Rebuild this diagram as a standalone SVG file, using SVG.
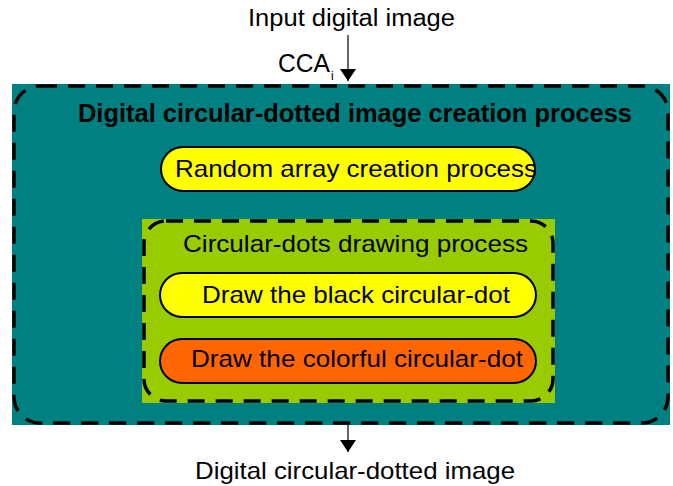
<svg xmlns="http://www.w3.org/2000/svg" width="673" height="486" viewBox="0 0 673 486">
<style>
text{font-family:"Liberation Sans",Arial,sans-serif;fill:#000}
.t{font-size:24px}
.b{font-size:25.5px;font-weight:bold}
.dash{fill:none;stroke:#000;stroke-width:3.5;stroke-dasharray:17 11}
.pill{stroke:#000;stroke-width:2}
.arr{stroke:#000;stroke-width:1.2;fill:none}
</style>
<defs>
<marker id="ah" viewBox="0 0 12 16" refX="12" refY="8" markerWidth="12" markerHeight="16" markerUnits="userSpaceOnUse" orient="auto">
<path d="M0,0 L12,8 L0,16 Z" fill="#000"/>
</marker>
</defs>
<g id="outer">
<rect x="12" y="84" width="658" height="341" fill="#008080"/>
<rect class="dash" x="14" y="86" width="654" height="337" rx="26" ry="26"/>
<text class="b" x="355" y="122" text-anchor="middle" textLength="554" lengthAdjust="spacingAndGlyphs">Digital circular-dotted image creation process</text>
</g>
<g id="random">
<rect class="pill" x="161" y="147" width="374" height="44" rx="22" fill="#FFFF00"/>
<text class="t" x="356" y="177" text-anchor="middle" textLength="362" lengthAdjust="spacingAndGlyphs">Random array creation process</text>
</g>
<g id="drawing">
<rect x="142" y="219" width="413" height="184" fill="#99CC00"/>
<rect class="dash" x="144" y="221" width="409" height="180" rx="22" ry="22"/>
<text class="t" x="355.5" y="252" text-anchor="middle" textLength="345" lengthAdjust="spacingAndGlyphs">Circular-dots drawing process</text>
</g>
<g id="black">
<rect class="pill" x="160" y="273" width="376" height="44" rx="22" fill="#FFFF00"/>
<text class="t" x="356" y="302.5" text-anchor="middle" textLength="308" lengthAdjust="spacingAndGlyphs">Draw the black circular-dot</text>
</g>
<g id="colorful">
<rect class="pill" x="160" y="339" width="376" height="44" rx="22" fill="#FF6600"/>
<text class="t" x="357" y="367" text-anchor="middle" textLength="332" lengthAdjust="spacingAndGlyphs">Draw the colorful circular-dot</text>
</g>
<g id="input">
<text x="351.5" y="26" font-size="23" text-anchor="middle" textLength="207" lengthAdjust="spacingAndGlyphs">Input digital image</text>
</g>
<g id="output">
<text class="t" x="355" y="479" text-anchor="middle" textLength="320" lengthAdjust="spacingAndGlyphs">Digital circular-dotted image</text>
</g>
<g id="connectors">
<line class="arr" x1="348" y1="35" x2="348" y2="81" marker-end="url(#ah)"/>
<text x="278" y="72" font-size="25" textLength="52" lengthAdjust="spacingAndGlyphs">CCA</text>
<text x="331" y="80" font-size="12">i</text>
<line class="arr" x1="348" y1="425" x2="348" y2="452" marker-end="url(#ah)"/>
</g>
</svg>
